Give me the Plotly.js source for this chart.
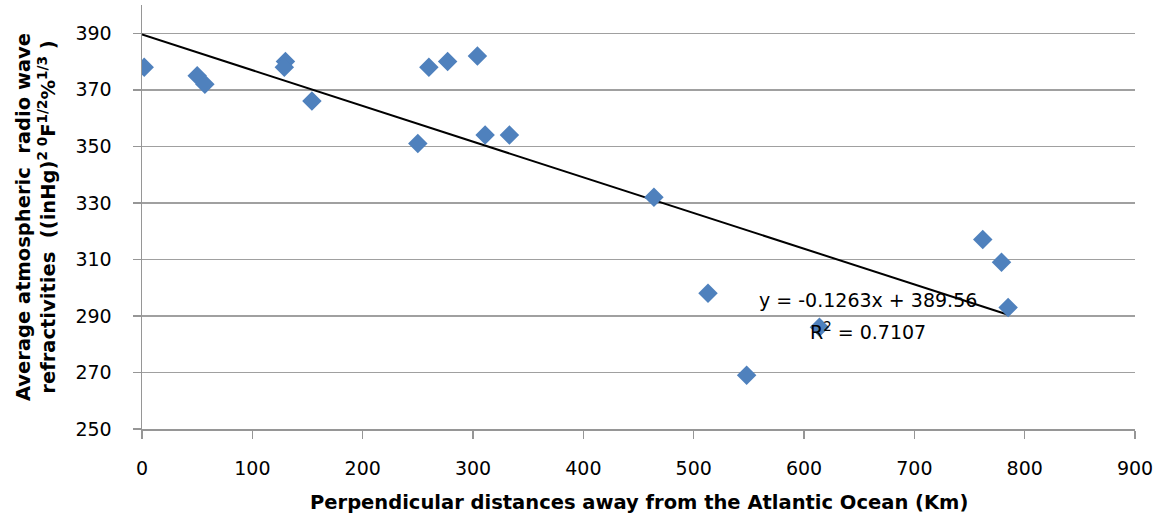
<!DOCTYPE html>
<html>
<head>
<meta charset="utf-8">
<script src="https://cdn.plot.ly/plotly-3.0.1.min.js"></script>
<style>html,body{margin:0;padding:0;background:#fff;}#chart{width:1164px;height:520px;}</style>
</head>
<body>
<div id="chart"></div>
<script>
// Distances (km) and average refractivity values
const distances = [2, 50, 57, 130, 129, 154, 250, 260, 277, 304, 311, 333, 464, 513, 614, 548, 762, 779, 785];
const refractivity = [378, 375, 372, 380, 378, 366, 351, 378, 380, 382, 354, 354, 332, 298, 286, 269, 317, 309, 293];
// Trendline coefficients (from the chart label)
const slope = -0.1263;
const intercept = 389.56;
const rSquared = 0.7107;
const xTicks = [0, 100, 200, 300, 400, 500, 600, 700, 800, 900];
const yTicks = [250, 270, 290, 310, 330, 350, 370, 390];
const xTitle = 'Perpendicular distances away from the Atlantic Ocean (Km)';
const yTitle = 'Average atmospheric  radio wave<br>refractivities  ((inHg)<sup>2 0</sup>F<sup>1/2</sup>%<sup>1/3</sup> )';

const xMax = Math.max(...distances);
const trendX = [0, xMax];
const trendY = trendX.map(x => slope * x + intercept);

const font = "'DejaVu Sans', 'Liberation Sans', Arial, sans-serif";

const traces = [
  {
    x: trendX, y: trendY, type: 'scatter', mode: 'lines',
    line: {color: '#000000', width: 2}, hoverinfo: 'skip', showlegend: false
  },
  {
    x: distances, y: refractivity, type: 'scatter', mode: 'markers',
    marker: {symbol: 'diamond', size: 15, color: '#4F81BD'}, showlegend: false
  }
];

const layout = {
  width: 1164, height: 520,
  margin: {l: 142, r: 29, t: 5, b: 91},
  paper_bgcolor: '#ffffff', plot_bgcolor: '#ffffff',
  font: {family: font, color: '#000000', size: 19},
  showlegend: false,
  xaxis: {
    range: [0, 900], tickvals: xTicks, ticktext: xTicks.map(String),
    showgrid: false, zeroline: false,
    showline: true, linecolor: '#969696', linewidth: 1.5,
    ticks: 'outside', ticklen: 8, tickcolor: '#969696', tickwidth: 1.5,
    ticklabelstandoff: 14,
    tickfont: {family: font, size: 19}
  },
  yaxis: {
    range: [250, 400], tickvals: yTicks, ticktext: yTicks.map(String),
    showgrid: true, gridcolor: '#A0A0A0', gridwidth: 1.5,
    zeroline: false,
    showline: true, linecolor: '#969696', linewidth: 1.5,
    ticks: 'outside', ticklen: 8, tickcolor: '#969696', tickwidth: 1.5,
    ticklabelstandoff: 17,
    tickfont: {family: font, size: 19},
    title: {text: yTitle, font: {family: font, size: 19.5, weight: 'bold'}, standoff: 14}
  },
  annotations: [
    {
      x: 0.5, y: -0.1745, xref: 'paper', yref: 'paper', showarrow: false,
      text: xTitle, font: {family: font, size: 19.5, weight: 'bold', color: '#000000'},
      xanchor: 'center', yanchor: 'middle'
    },
    {
      x: 658, y: 295.5, xref: 'x', yref: 'y', showarrow: false,
      text: 'y = ' + slope.toFixed(4) + 'x + ' + intercept.toFixed(2),
      font: {family: font, size: 19, color: '#000000'},
      xanchor: 'center', yanchor: 'middle'
    },
    {
      x: 658, y: 284.6, xref: 'x', yref: 'y', showarrow: false,
      text: 'R<sup>2</sup> = ' + rSquared.toFixed(4),
      font: {family: font, size: 19, color: '#000000'},
      xanchor: 'center', yanchor: 'middle'
    }
  ]
};

Plotly.newPlot('chart', traces, layout, {displayModeBar: false, staticPlot: true});
</script>
</body>
</html>
